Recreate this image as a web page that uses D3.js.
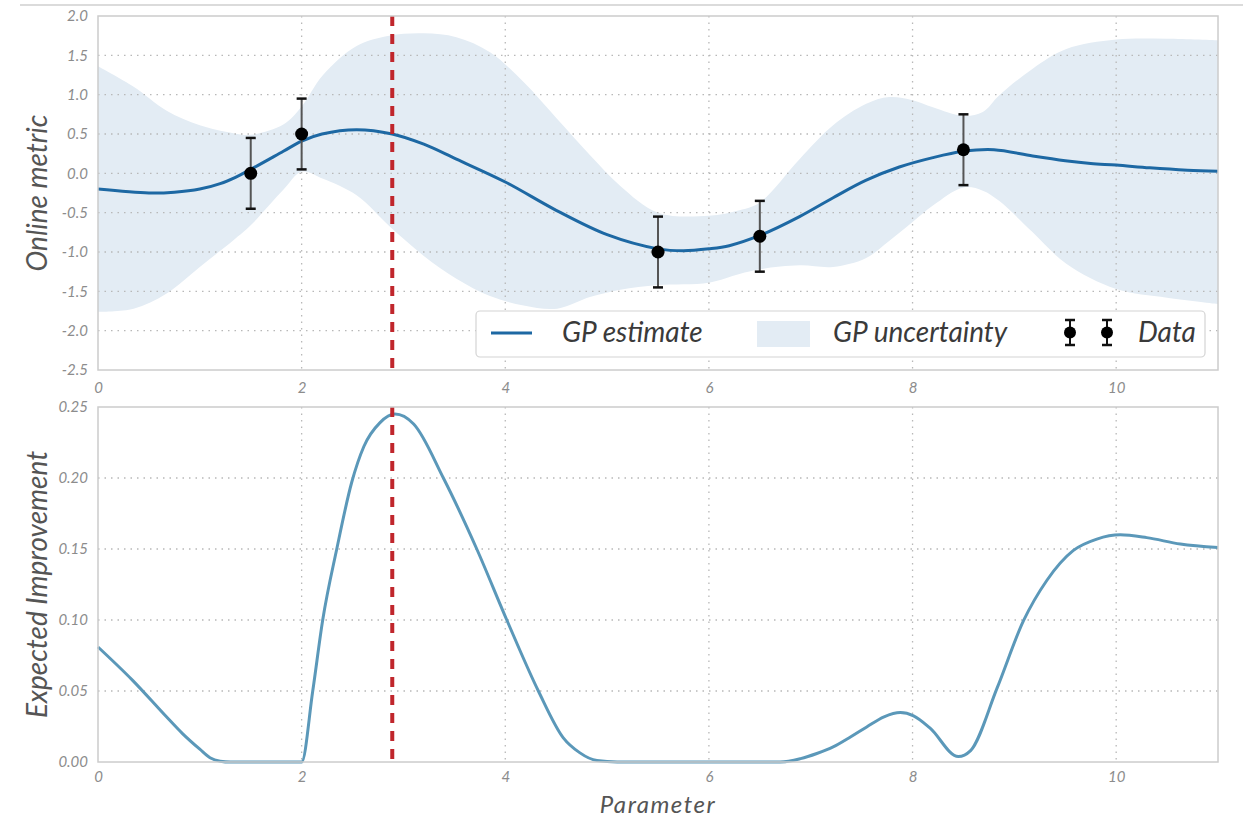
<!DOCTYPE html>
<html>
<head>
<meta charset="utf-8">
<script src="https://cdn.jsdelivr.net/npm/d3@7"></script>
<style>
  body { margin: 0; background: #fff; }
  text { font-family: Lato, "Open Sans", sans-serif; font-style: italic; }
</style>
</head>
<body>
<svg id="chart" width="1243" height="819"></svg>
<script>
// GP posterior mean
const meanX = [0, 0.5, 0.75, 1.0, 1.2, 1.35, 1.5, 1.82, 2.0, 2.2, 2.54, 2.89, 3.2, 3.52, 4.0, 4.5, 5.0, 5.5, 5.75, 6.0, 6.2, 6.5, 6.89, 7.22, 7.54, 7.87, 8.2, 8.5, 8.8, 9.18, 9.5, 9.75, 10.0, 10.33, 10.7, 11.0];
const meanY = [-0.2, -0.25, -0.24, -0.2, -0.13, -0.05, 0.05, 0.28, 0.41, 0.5, 0.555, 0.5, 0.37, 0.18, -0.11, -0.47, -0.78, -0.96, -0.985, -0.96, -0.92, -0.79, -0.55, -0.31, -0.09, 0.08, 0.2, 0.28, 0.3, 0.22, 0.16, 0.125, 0.105, 0.07, 0.04, 0.025];

// GP uncertainty band
const bandX = [0, 0.35, 0.67, 1.0, 1.33, 1.5, 1.82, 2.0, 2.21, 2.54, 2.86, 3.2, 3.52, 3.85, 4.18, 4.51, 4.84, 5.13, 5.5, 6.0, 6.3, 6.5, 6.89, 7.22, 7.54, 7.77, 8.0, 8.2, 8.5, 8.69, 8.85, 9.18, 9.51, 10.0, 10.5, 11.0];
const bandUpper = [1.36, 1.1, 0.8, 0.61, 0.51, 0.49, 0.62, 0.85, 1.25, 1.62, 1.75, 1.78, 1.73, 1.54, 1.16, 0.69, 0.22, -0.16, -0.5, -0.54, -0.47, -0.37, 0.18, 0.61, 0.88, 0.97, 0.93, 0.84, 0.73, 0.78, 0.99, 1.33, 1.58, 1.7, 1.71, 1.69];
const bandLower = [-1.76, -1.72, -1.53, -1.19, -0.85, -0.66, -0.21, 0.02, -0.07, -0.28, -0.67, -1.05, -1.34, -1.56, -1.68, -1.72, -1.57, -1.48, -1.42, -1.39, -1.28, -1.22, -1.17, -1.19, -1.08, -0.86, -0.62, -0.41, -0.18, -0.22, -0.35, -0.75, -1.15, -1.47, -1.58, -1.66];

// observations
const obsX = [1.5, 2.0, 5.5, 6.5, 8.5];
const obsY = [0.0, 0.5, -1.0, -0.8, 0.3];
const obsErr = [0.45, 0.45, 0.45, 0.45, 0.45];

// expected improvement
const eiX = [0, 0.34, 0.67, 0.83, 1.0, 1.1, 1.2, 1.3, 2.0, 2.109, 2.207, 2.345, 2.492, 2.61, 2.77, 2.917, 3.1, 3.392, 3.72, 4.015, 4.325, 4.57, 4.73, 4.9, 5.1, 6.7, 6.9, 7.06, 7.22, 7.39, 7.55, 7.72, 7.88, 8.01, 8.17, 8.45, 8.57, 8.83, 9.09, 9.32, 9.58, 9.81, 10.04, 10.3, 10.63, 11.0];
const eiY = [0.081, 0.0575, 0.032, 0.020, 0.009, 0.003, 0.0006, 0, 0, 0.05, 0.10, 0.15, 0.197, 0.222, 0.239, 0.245, 0.238, 0.20, 0.15, 0.10, 0.05, 0.017, 0.0066, 0.001, 0, 0, 0.0024, 0.006, 0.0106, 0.0176, 0.0247, 0.0318, 0.0348, 0.0325, 0.024, 0.0038, 0.008, 0.052, 0.0995, 0.128, 0.149, 0.157, 0.16, 0.158, 0.1535, 0.151];

const nextParam = 2.89;

const xTicks = [0, 2, 4, 6, 8, 10];
const topYTicks = [-2.5, -2.0, -1.5, -1.0, -0.5, 0.0, 0.5, 1.0, 1.5, 2.0];
const botYTicks = [0.00, 0.05, 0.10, 0.15, 0.20, 0.25];

const svg = d3.select('#chart');
const left = 98, right = 1218;
const top1 = { y0: 16, y1: 370 };
const top2 = { y0: 407, y1: 762 };

const x = d3.scaleLinear().domain([0, 11]).range([left, right]);
const y1 = d3.scaleLinear().domain([-2.5, 2.0]).range([top1.y1, top1.y0]);
const y2 = d3.scaleLinear().domain([0, 0.25]).range([top2.y1, top2.y0]);

const gridColor = '#b8b8b8';
const tickColor = '#8c8c8c';
const smooth = d3.curveCatmullRom.alpha(0.5);

// thin rule at the very top
svg.append('line')
  .attr('x1', 20).attr('x2', 1243).attr('y1', 5).attr('y2', 5)
  .attr('stroke', '#cfcfcf').attr('stroke-width', 1.5);

function grid(g, y, yTicks, p) {
  g.append('g').selectAll('line.h')
    .data(yTicks.filter(d => y(d) > p.y0 + 1 && y(d) < p.y1 - 1))
    .enter().append('line')
    .attr('x1', left).attr('x2', right)
    .attr('y1', d => y(d)).attr('y2', d => y(d))
    .attr('stroke', gridColor).attr('stroke-width', 1.3)
    .attr('stroke-dasharray', '1.5,5');
  g.append('g').selectAll('line.v')
    .data(xTicks.filter(d => d > 0))
    .enter().append('line')
    .attr('x1', d => x(d)).attr('x2', d => x(d))
    .attr('y1', p.y0).attr('y2', p.y1)
    .attr('stroke', gridColor).attr('stroke-width', 1.3)
    .attr('stroke-dasharray', '1.5,5');
}

function axes(y, yTicks, p, fmt, pad) {
  const ga = svg.append('g').attr('transform', `translate(${left},0)`)
    .call(d3.axisLeft(y).tickValues(yTicks).tickSize(0).tickPadding(10).tickFormat(fmt));
  const gb = svg.append('g').attr('transform', `translate(0,${p.y1})`)
    .call(d3.axisBottom(x).tickValues(xTicks).tickSize(0).tickPadding(pad).tickFormat(d3.format('d')));
  [ga, gb].forEach(g => {
    g.select('.domain').remove();
    g.selectAll('text')
      .attr('fill', tickColor)
      .style('font-size', '15px')
      .style('font-family', 'Lato, sans-serif')
      .style('font-style', 'italic');
  });
}

function frame(p) {
  svg.append('rect')
    .attr('x', left).attr('y', p.y0)
    .attr('width', right - left).attr('height', p.y1 - p.y0)
    .attr('fill', 'none').attr('stroke', '#cccccc').attr('stroke-width', 1.5);
}

// ---------- top panel ----------
const g1 = svg.append('g');
const bandData = bandX.map((d, i) => ({ x: d, lo: bandLower[i], hi: bandUpper[i] }));
g1.append('path')
  .datum(bandData)
  .attr('fill', '#e3ecf4')
  .attr('d', d3.area().x(d => x(d.x)).y0(d => y1(d.lo)).y1(d => y1(d.hi)).curve(smooth));

grid(g1, y1, topYTicks, top1);

g1.append('path')
  .datum(meanX.map((d, i) => ({ x: d, y: meanY[i] })))
  .attr('fill', 'none')
  .attr('stroke', '#1d68a3')
  .attr('stroke-width', 3)
  .attr('d', d3.line().x(d => x(d.x)).y(d => y1(d.y)).curve(smooth));

const obs = obsX.map((d, i) => ({ x: d, y: obsY[i], e: obsErr[i] }));
const eb = g1.selectAll('g.obs').data(obs).enter().append('g');
eb.append('line')
  .attr('x1', d => x(d.x)).attr('x2', d => x(d.x))
  .attr('y1', d => y1(d.y + d.e)).attr('y2', d => y1(d.y - d.e))
  .attr('stroke', '#555').attr('stroke-width', 2);
[1, -1].forEach(s => {
  eb.append('line')
    .attr('x1', d => x(d.x) - 5).attr('x2', d => x(d.x) + 5)
    .attr('y1', d => y1(d.y + s * d.e)).attr('y2', d => y1(d.y + s * d.e))
    .attr('stroke', '#111').attr('stroke-width', 2.5);
});
eb.append('circle')
  .attr('cx', d => x(d.x)).attr('cy', d => y1(d.y))
  .attr('r', 6.5).attr('fill', '#000');

svg.append('line')
  .attr('x1', x(nextParam)).attr('x2', x(nextParam))
  .attr('y1', top1.y0).attr('y2', top1.y1)
  .attr('stroke', '#c0262c').attr('stroke-width', 4)
  .attr('stroke-dasharray', '10,8');

frame(top1);
axes(y1, topYTicks, top1, d => d.toFixed(1), 12);

// legend
const lg = svg.append('g');
lg.append('rect')
  .attr('x', 476).attr('y', 311).attr('width', 729).attr('height', 46)
  .attr('rx', 4).attr('fill', '#fff').attr('stroke', '#d4d4d4').attr('stroke-width', 1.2);
lg.append('line').attr('x1', 491).attr('x2', 532).attr('y1', 333).attr('y2', 333)
  .attr('stroke', '#1d68a3').attr('stroke-width', 3);
lg.append('text').attr('x', 562).attr('y', 342).text('GP estimate')
  .attr('fill', '#3a3a3a').style('font-size', '28px');
lg.append('rect').attr('x', 757).attr('y', 321).attr('width', 53).attr('height', 26)
  .attr('fill', '#e3ecf4');
lg.append('text').attr('x', 833).attr('y', 342).text('GP uncertainty')
  .attr('fill', '#3a3a3a').style('font-size', '28px');
[1070, 1107].forEach(cx => {
  lg.append('line').attr('x1', cx).attr('x2', cx).attr('y1', 320).attr('y2', 345)
    .attr('stroke', '#111').attr('stroke-width', 2);
  lg.append('line').attr('x1', cx - 5).attr('x2', cx + 5).attr('y1', 320).attr('y2', 320)
    .attr('stroke', '#111').attr('stroke-width', 2.5);
  lg.append('line').attr('x1', cx - 5).attr('x2', cx + 5).attr('y1', 345).attr('y2', 345)
    .attr('stroke', '#111').attr('stroke-width', 2.5);
  lg.append('circle').attr('cx', cx).attr('cy', 332.5).attr('r', 6).attr('fill', '#000');
});
lg.append('text').attr('x', 1138).attr('y', 342).text('Data')
  .attr('fill', '#3a3a3a').style('font-size', '28px');

// ---------- bottom panel ----------
const g2 = svg.append('g');
grid(g2, y2, botYTicks, top2);

g2.append('path')
  .datum(eiX.map((d, i) => ({ x: d, y: eiY[i] })))
  .attr('fill', 'none')
  .attr('stroke', '#5b98b9')
  .attr('stroke-width', 3)
  .attr('d', d3.line().x(d => x(d.x)).y(d => y2(d.y)).curve(d3.curveMonotoneX));

svg.append('line')
  .attr('x1', x(nextParam)).attr('x2', x(nextParam))
  .attr('y1', top2.y0).attr('y2', top2.y1)
  .attr('stroke', '#c0262c').attr('stroke-width', 4)
  .attr('stroke-dasharray', '10,8');

frame(top2);
axes(y2, botYTicks, top2, d => d.toFixed(2), 9);

// axis titles
svg.append('text')
  .attr('transform', `translate(47,${(top1.y0 + top1.y1) / 2}) rotate(-90)`)
  .attr('text-anchor', 'middle')
  .attr('fill', '#555').style('font-size', '28px')
  .text('Online metric');
svg.append('text')
  .attr('transform', `translate(47,${(top2.y0 + top2.y1) / 2}) rotate(-90)`)
  .attr('text-anchor', 'middle')
  .attr('fill', '#555').style('font-size', '28px')
  .text('Expected Improvement');
svg.append('text')
  .attr('x', 658).attr('y', 813)
  .attr('text-anchor', 'middle')
  .attr('fill', '#555').style('font-size', '24px')
  .style('letter-spacing', '1.5px')
  .text('Parameter');
</script>
</body>
</html>
